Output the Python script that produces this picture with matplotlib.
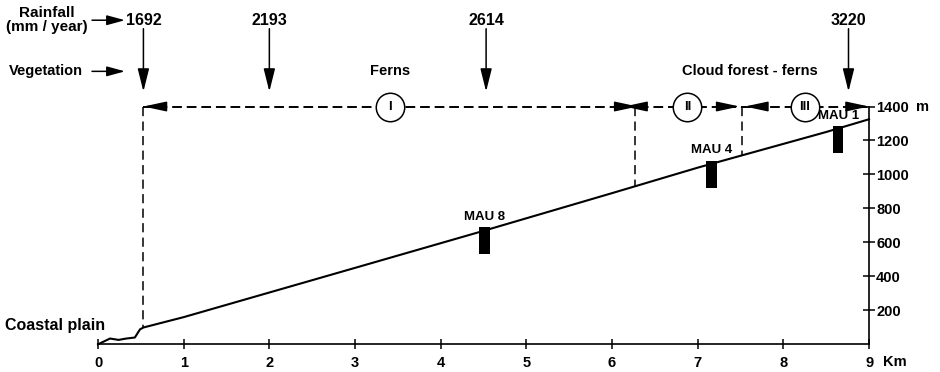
import numpy as np
import matplotlib
matplotlib.use('Agg')
import matplotlib.pyplot as plt

plt.rcParams['font.family'] = ['Liberation Sans', 'DejaVu Sans']
plt.rcParams['font.weight'] = 'bold'

## DATA
# altitudinal profile (distance from coast in km, elevation in m)
profile_km = [0, 0.14, 0.24, 0.33, 0.43, 0.49, 0.53, 1.0, 2.0, 3.0, 4.5, 6.0, 7.0, 8.5, 9.0]
profile_m = [0, 34, 26, 34, 40, 88, 99, 160, 305, 450, 668, 890, 1040, 1250, 1325]

# rainfall stations
rain_km = [0.53, 2.0, 4.53, 8.76]
rain_mm = [1692, 2193, 2614, 3220]

# vegetation zones
zone_edges = [0.53, 6.27, 7.52, 9.0]
zone_labels = ['I', 'II', 'III']
zone_mark_km = [3.41, 6.88, 8.25]
zone_level = 1400

# sampling sites
mau_names = ['MAU 8', 'MAU 4', 'MAU 1']
mau_km = [4.51, 7.16, 8.64]
mau_bottom = [530, 921, 1125]
mau_top = [690, 1081, 1284]

x_ticks = list(range(0, 10))
y_ticks = [200, 400, 600, 800, 1000, 1200, 1400]

## FIGURE
fig = plt.figure(figsize=(9.4, 3.72), dpi=100)
ax = fig.add_axes([0, 0, 1, 1])
ax.set_xlim(-1.144, 9.828)
ax.set_ylim(-163, 2027)

# axes: bottom (km) and right (m)
for side in ['top', 'left']:
    ax.spines[side].set_visible(False)
ax.spines['bottom'].set_position(('data', 0))
ax.spines['bottom'].set_bounds(0, 9)
ax.spines['right'].set_position(('data', 9))
ax.spines['right'].set_bounds(0, 1400)
for side in ['bottom', 'right']:
    ax.spines[side].set_linewidth(1.2)

ax.set_xticks(x_ticks)
ax.set_xticklabels([str(t) for t in x_ticks])
ax.set_yticks(y_ticks)
ax.set_yticklabels([str(t) for t in y_ticks])
ax.tick_params(axis='x', direction='inout', length=7, width=1.1, pad=5, labelsize=10.5)
ax.tick_params(axis='y', left=False, labelleft=False, right=True, labelright=True,
               direction='inout', length=8, width=1.1, pad=1, labelsize=10.5)
ax.text(9.62, zone_level, 'm', ha='center', va='center', fontsize=10.5)
ax.text(9.3, -106, 'Km', ha='center', va='center', fontsize=10.5)

# profile
ax.plot(profile_km, profile_m, color='black', lw=1.5, zorder=3)
ax.text(-1.086, 112, 'Coastal plain', ha='left', va='center', fontsize=11.5)

# sampling sites
heights = np.array(mau_top) - np.array(mau_bottom)
ax.bar(mau_km, heights, bottom=mau_bottom, width=0.12, color='black', zorder=4)
for name, x, top in zip(mau_names, mau_km, mau_top):
    ax.text(x, top + 60, name, ha='center', va='center', fontsize=9.5)

# rainfall arrows
head = dict(color='black', lw=1.1, shrinkA=0, shrinkB=0)
for x, mm in zip(rain_km, rain_mm):
    ax.text(x, 1878, str(mm), ha='center', va='baseline', fontsize=11.5)
    ax.annotate('', xy=(x, 1488), xytext=(x, 1858),
                arrowprops=dict(arrowstyle='-|>,head_length=1.4,head_width=0.35', **head))

ax.text(-0.595, 1908, 'Rainfall\n(mm / year)', ha='center', va='center',
        fontsize=11, linespacing=1.0)
ax.annotate('', xy=(0.315, 1908), xytext=(-0.07, 1908),
            arrowprops=dict(arrowstyle='-|>,head_length=1.1,head_width=0.3', **head))
ax.text(-0.175, 1607, 'Vegetation', ha='right', va='center', fontsize=10.5)
ax.annotate('', xy=(0.315, 1607), xytext=(-0.07, 1607),
            arrowprops=dict(arrowstyle='-|>,head_length=1.1,head_width=0.3', **head))

# vegetation zones
dash = (0, (5, 2.5))
ax.plot([zone_edges[0], zone_edges[-1]], [zone_level, zone_level],
        color='black', lw=1.4, linestyle=dash, zorder=2)
for edge in zone_edges[:-1]:
    ground = np.interp(edge, profile_km, profile_m)
    ax.plot([edge, edge], [zone_level, ground], color='black', lw=1.1,
            linestyle=(0, (6, 3.5)), zorder=2)

tips = [(0.53, 6.3), (6.14, 7.49), (7.55, 9.0)]
for a, b in tips:
    ax.annotate('', xy=(a, zone_level), xytext=(a + 0.25, zone_level),
                arrowprops=dict(arrowstyle='-|>,head_length=1.4,head_width=0.3', **head))
    ax.annotate('', xy=(b, zone_level), xytext=(b - 0.25, zone_level),
                arrowprops=dict(arrowstyle='-|>,head_length=1.4,head_width=0.3', **head))

ax.scatter(zone_mark_km, [zone_level] * 3, s=420, facecolor='white',
           edgecolor='black', linewidth=1.1, zorder=5)
for x, lab in zip(zone_mark_km, zone_labels):
    ax.text(x, zone_level, lab, ha='center', va='center', fontsize=9.5, zorder=6)

ax.text(zone_mark_km[0], 1607, 'Ferns', ha='center', va='center', fontsize=10.5)
ax.text(7.61, 1607, 'Cloud forest - ferns', ha='center', va='center', fontsize=10.5)

fig.savefig('out.png', dpi=100)
